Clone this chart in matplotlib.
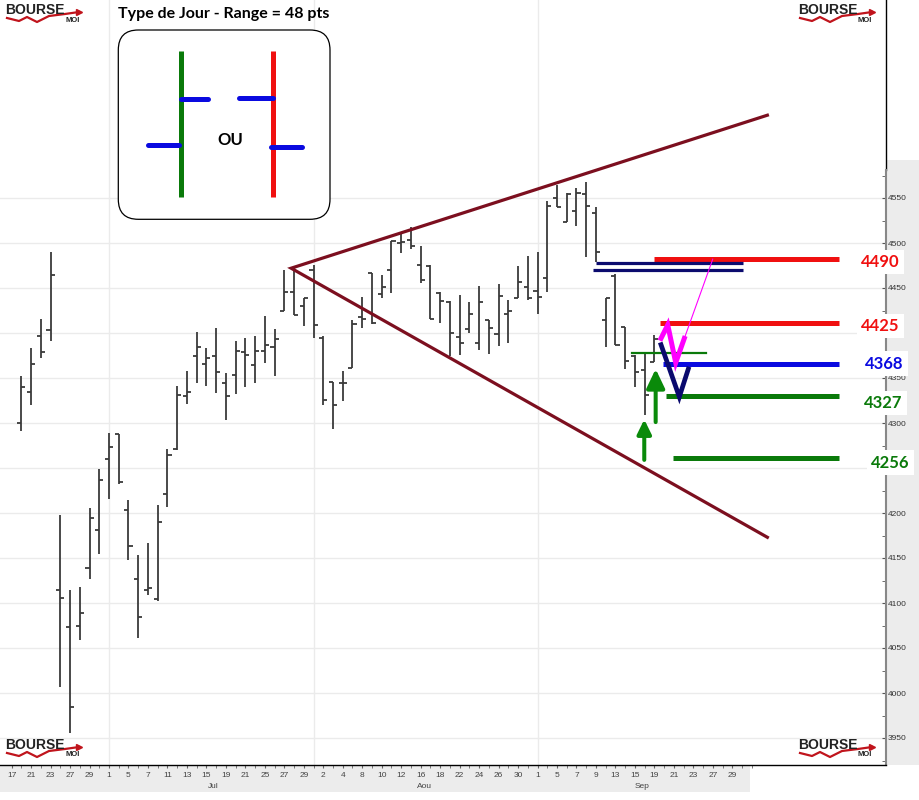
import matplotlib
matplotlib.use('Agg')
import matplotlib.pyplot as plt
from matplotlib.patches import Rectangle, FancyBboxPatch

# daily OHLC, index 0 = 17 juin (trading days)
bar_idx = list(range(1, 67))
opens = [4300, 4335, 4397, 4403, 4114, 4073, 4074, 4139, 4181, 4260,
         4288, 4203, 4127, 4114, 4105, 4221, 4271, 4330, 4374, 4366,
         4374, 4345, 4353, 4379, 4364, 4380, 4384, 4424, 4446, 4430,
         4470, 4395, 4346, 4344, 4361, 4418, 4467, 4443, 4470, 4500,
         4503, 4476, 4474, 4445, 4435, 4396, 4404, 4389, 4414, 4399,
         4421, 4439, 4451, 4447, 4461, 4550, 4523, 4536, 4554, 4533,
         4414, 4463, 4407, 4374, 4359, 4368]
highs = [4352, 4383, 4416, 4490, 4198, 4114, 4118, 4206, 4249, 4289,
         4288, 4215, 4153, 4167, 4209, 4271, 4341, 4358, 4401, 4383,
         4406, 4356, 4391, 4394, 4397, 4419, 4405, 4470, 4471, 4439,
         4476, 4397, 4346, 4358, 4414, 4440, 4467, 4464, 4502, 4510,
         4518, 4497, 4476, 4446, 4436, 4442, 4435, 4452, 4415, 4454,
         4437, 4474, 4486, 4490, 4547, 4565, 4556, 4561, 4568, 4540,
         4439, 4466, 4407, 4376, 4377, 4398]
lows = [4291, 4320, 4372, 4391, 4007, 3956, 4059, 4127, 4154, 4216,
        4232, 4148, 4061, 4109, 4102, 4207, 4270, 4321, 4344, 4341,
        4333, 4303, 4332, 4340, 4344, 4367, 4352, 4424, 4420, 4408,
        4394, 4320, 4293, 4324, 4361, 4406, 4410, 4439, 4445, 4489,
        4493, 4456, 4416, 4411, 4374, 4376, 4400, 4381, 4377, 4386,
        4389, 4439, 4437, 4421, 4446, 4540, 4523, 4519, 4485, 4479,
        4385, 4387, 4360, 4340, 4309, 4368]
closes = [4340, 4366, 4379, 4465, 4106, 3985, 4089, 4194, 4237, 4273,
          4234, 4163, 4085, 4117, 4190, 4264, 4331, 4334, 4385, 4372,
          4357, 4330, 4380, 4376, 4380, 4387, 4393, 4446, 4420, 4439,
          4409, 4326, 4320, 4345, 4410, 4416, 4411, 4451, 4502, 4501,
          4497, 4459, 4416, 4436, 4400, 4389, 4421, 4435, 4406, 4441,
          4424, 4457, 4439, 4440, 4541, 4540, 4555, 4556, 4541, 4490,
          4439, 4387, 4369, 4357, 4331, 4393]

day_labels = ['17', '21', '23', '27', '29', '1', '5', '7', '11', '13', '15', '19',
              '21', '25', '27', '29', '2', '4', '8', '10', '12', '16', '18', '22',
              '24', '26', '30', '1', '5', '7', '9', '13', '15', '19', '21', '23',
              '27', '29']
day_label_idx = list(range(0, 76, 2))
months = ['Jul', 'Aou', 'Sep']
month_label_idx = [20.7, 42.4, 64.7]
month_start_idx = [10, 31, 54]

# right-axis labels (some hidden behind the level labels in the original)
price_ticks = list(range(3950, 4600, 50))
price_labels = ['3950', '4000', '4050', '4100', '4150', '4200', '',
                '4300', '4350', '', '4450', '4500', '4550']

# triangle (apex, upper end, lower end)
tri_x = [28.7, 77.6, 77.6]
tri_y = [4472, 4642, 4173]

# support / resistance levels: value drawn, start, end, colour, label, label y
lvl_y = [4482, 4411, 4366, 4330, 4261]
lvl_x0 = [65.96, 66.6, 66.85, 67.19, 67.88]
lvl_x1 = 84.95
lvl_col = ['#f01010', '#f01010', '#0a0ae0', '#0a7a0a', '#0a7a0a']
lvl_txt = ['4490', '4425', '4368', '4327', '4256']
lvl_txt_y = [4479, 4408, 4366, 4322, 4256]
lvl_txt_x = [89.2, 89.2, 89.6, 89.5, 90.2]

navy_y = [4477.4, 4470]
navy_x0 = [59.97, 59.73]
navy_x1 = 75.07
thin_green = (4377.4, 63.73, 71.27)

arrow_x = [64.96, 66.13]
arrow_base = [4259, 4301]
arrow_tip = [4304, 4360]

mag_x = [66.68, 67.37, 68.19, 69.07]
mag_y = [4394, 4409, 4367, 4394]
mag_thin_x = [69.14, 71.99]
mag_thin_y = [4396, 4482]
v_x = [66.68, 68.56, 69.48]
v_y = [4387, 4329, 4360]

W, H = 919, 800
fig = plt.figure(figsize=(W / 100, H / 100), dpi=100)
fig.patch.set_facecolor('white')

# grey axis strips
fig.add_artist(Rectangle((886 / W, 35 / H), 33 / W, 605 / H, transform=fig.transFigure,
                         facecolor='#ececec', edgecolor='none', zorder=-1))
fig.add_artist(Rectangle((0, 8 / H), 750 / W, 27 / H, transform=fig.transFigure,
                         facecolor='#ececec', edgecolor='none', zorder=-1))

ax = fig.add_axes([0, 35 / H, 886 / W, 765 / H])
ax.set_xlim(-1.19, 89.78)
ax.set_ylim(3920, 4770)

for v in price_ticks:
    ax.axhline(v, color='#ebebeb', lw=1, zorder=0)
for i in month_start_idx:
    ax.axvline(i, color='#ebebeb', lw=1, zorder=0)

# OHLC bars
bar_col = '#3a3a3a'
ax.vlines(bar_idx, lows, highs, color=bar_col, lw=1.3, zorder=2)
ax.hlines(opens, [i - 0.42 for i in bar_idx], bar_idx, color=bar_col, lw=1.3, zorder=2)
ax.hlines(closes, bar_idx, [i + 0.42 for i in bar_idx], color=bar_col, lw=1.3, zorder=2)

# triangle
maroon = '#7c0f1f'
ax.plot([tri_x[1], tri_x[0], tri_x[2]], [tri_y[1], tri_y[0], tri_y[2]],
        color=maroon, lw=2.3, zorder=3, solid_joinstyle='miter')

# levels
for y, x0, c, t, ty, tx in zip(lvl_y, lvl_x0, lvl_col, lvl_txt, lvl_txt_y, lvl_txt_x):
    ax.plot([x0, lvl_x1], [y, y], color=c, lw=3.6, zorder=4, solid_capstyle='butt')
    ax.text(tx, ty, t, color=c, fontsize=12, fontweight='bold', family='Lato',
            ha='center', va='center', clip_on=False, zorder=6,
            bbox=dict(facecolor='white', edgecolor='none', pad=3))

navy = '#0b0b6e'
for y, x0 in zip(navy_y, navy_x0):
    ax.plot([x0, navy_x1], [y, y], color=navy, lw=2.3, zorder=4, solid_capstyle='butt')
ax.plot([thin_green[1], thin_green[2]], [thin_green[0]] * 2, color='#0a7a0a', lw=1.6, zorder=4)

green = '#0a8a0a'
for xa, yb, yt, s in zip(arrow_x, arrow_base, arrow_tip, [(0.86, 0.42), (1.15, 0.55)]):
    ax.annotate('', xy=(xa, yt), xytext=(xa, yb), zorder=5,
                arrowprops=dict(arrowstyle='-|>,head_length=%.2f,head_width=%.2f' % s,
                                mutation_scale=10, color=green, lw=2.9,
                                shrinkA=0, shrinkB=0))

ax.plot(mag_x, mag_y, color='#ff00ff', lw=3.6, zorder=5, solid_joinstyle='miter')
ax.plot(mag_thin_x, mag_thin_y, color='#ff00ff', lw=0.8, zorder=5)
ax.plot(v_x, v_y, color='#0a0a6e', lw=3.4, zorder=5, solid_joinstyle='miter')

# axes styling
for s in ['top', 'left']:
    ax.spines[s].set_visible(False)
ax.spines['right'].set_color('#888888')
ax.spines['right'].set_linewidth(1.5)
ax.spines['right'].set_bounds(3920, 4581)
ax.axvline(89.78, ymin=(4581 - 3920) / 850, ymax=1, color='black', lw=1, clip_on=False)
ax.spines['bottom'].set_color('black')
ax.spines['bottom'].set_linewidth(1)

ax.yaxis.tick_right()
ax.set_yticks(price_ticks)
ax.set_yticklabels(price_labels)
ax.set_yticks(range(3925, 4600, 25), minor=True)
ax.tick_params(axis='y', which='both', direction='in', length=3, pad=1.5,
               labelsize=6, labelcolor='#333333', color='#555555')
for lab in ax.get_yticklabels():
    lab.set_family('Liberation Sans')

ax.set_xticks(day_label_idx)
ax.set_xticklabels(day_labels)
ax.set_xticks(range(0, 77), minor=True)
ax.tick_params(axis='x', which='both', direction='out', length=2, pad=3,
               labelsize=6, labelcolor='#444444', color='#666666')
for lab in ax.get_xticklabels():
    lab.set_family('Liberation Sans')
for m, mx in zip(months, month_label_idx):
    ax.annotate(m, xy=(mx, 0), xycoords=('data', 'axes fraction'), xytext=(0, -22 * 0.72),
                textcoords='offset points', ha='center', va='center', fontsize=6,
                color='#444444', family='Liberation Sans', annotation_clip=False)

# overlay in pixel units for title, legend and logos
ov = fig.add_axes([0, 0, 1, 1])
ov.set_xlim(0, W)
ov.set_ylim(H, 0)
ov.axis('off')
ov.patch.set_alpha(0)

ov.text(118, 14, 'Type de Jour - Range = 48 pts', fontsize=11.5, fontweight='bold',
        family='Lato', ha='left', va='center')
ov.add_patch(FancyBboxPatch((118.3, 30), 211.7, 189.3,
                            boxstyle='round,pad=0,rounding_size=20',
                            facecolor='white', edgecolor='black', lw=0.9))
ov.plot([181.3, 181.3], [51, 196.7], color='#0a7a0a', lw=3.6, solid_capstyle='butt')
ov.plot([273.3, 273.3], [51, 196.7], color='#f01010', lw=3.6, solid_capstyle='butt')
for xs, ys in [([147.7, 179.3], 145.3), ([181, 208.3], 99.3),
               ([239, 273.3], 98.3), ([270.7, 301.7], 147)]:
    ov.plot(xs, [ys, ys], color='#0a0ae0', lw=3.6, solid_capstyle='round')
ov.text(230, 140, 'OU', fontsize=12, fontweight='bold', family='Lato',
        ha='center', va='center')


def logo(x, y):
    ov.plot([x + 2, x + 14, x + 22, x + 32, x + 44, x + 60, x + 74],
            [y + 16, y + 19, y + 15, y + 20, y + 14, y + 12, y + 10],
            color='#c0141c', lw=1.6)
    ov.plot([x + 74], [y + 10], marker='>', color='#c0141c', ms=5)
    ov.text(x, y + 8, 'BOURSE', fontsize=10, fontweight='bold', family='Liberation Sans',
            color='#222222', ha='left', va='center')
    ov.text(x + 60, y + 18, 'MOI', fontsize=5.5, fontweight='bold',
            family='Liberation Sans', color='#222222', ha='left', va='center')


for lx, ly in [(5, 2), (798, 2), (5, 737), (798, 737)]:
    logo(lx, ly)

fig.savefig('out.png', dpi=100)
